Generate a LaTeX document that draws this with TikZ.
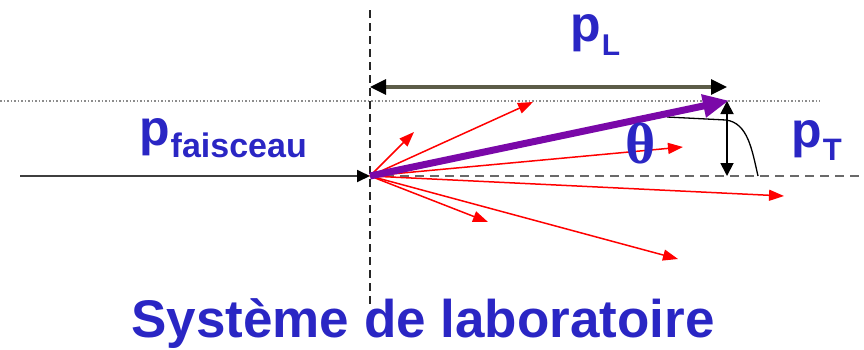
\documentclass[tikz,border=0pt]{standalone}
\usepackage{fontspec}
\setmainfont{Liberation Sans}
\newfontfamily\greekserif{Liberation Serif}
\usetikzlibrary{arrows.meta}
\definecolor{txtblue}{RGB}{42,38,196}
\definecolor{arrpurple}{RGB}{122,8,168}
\definecolor{olivegray}{RGB}{92,92,72}
\definecolor{midgray}{RGB}{105,105,105}
\definecolor{dotgray}{RGB}{140,140,140}
\tikzset{
  lbl/.style={text=txtblue, inner sep=0pt, font=\bfseries\fontsize{50}{50}\selectfont},
  redarr/.style={red, line width=1.5pt, -{Triangle[length=15pt,width=11pt]}},
}
\begin{document}
\begin{tikzpicture}[x=1pt,y=-1pt]
\useasboundingbox (0,0) rectangle (864,349);
% reference lines
\coordinate (O) at (370,176);
\coordinate (vtop) at (370,10);
\coordinate (vbot) at (370,306);
\coordinate (dotL) at (0,101);
\coordinate (dotR) at (820,101);
\coordinate (dashR) at (864,176);
\coordinate (beamS) at (20,176);
\coordinate (Ltail) at (370,87);
\coordinate (Lhead) at (727,87);
\coordinate (P) at (727,101);
\coordinate (Pbase) at (727,176);
\draw[black!85, line width=2.6pt, dash pattern=on 8pt off 5pt] (vtop) -- (vbot);
\draw[dotgray, line width=1.3pt, dash pattern=on 1.5pt off 2pt] (dotL) -- (dotR);
\draw[midgray, line width=1.8pt, dash pattern=on 9pt off 6pt] (O) -- (dashR);
% beam
\draw[midgray!60!black, line width=1.8pt, -{Triangle[length=13pt,width=12pt,color=black]}] (beamS) -- (O);
% red arrows
\coordinate (r1) at (414,132);
\coordinate (r2) at (533,102);
\coordinate (r3) at (683,147);
\coordinate (r4) at (784,196);
\coordinate (r5) at (488,222);
\coordinate (r6) at (678,259);
\foreach \r in {r1,r2,r3,r4,r5,r6} \draw[redarr] (O) -- (\r);
% theta curve
\coordinate (c1) at (667,117);
\coordinate (c2) at (726,120);
\coordinate (c3) at (758,176);
\draw[black, line width=1.3pt] (c1) -- (c2) .. controls (748,123) and (752,150) .. (c3);
% purple momentum
\draw[arrpurple, line width=7pt, -{Triangle[length=26pt,width=22pt]}, shorten >=-2pt] (O) -- (P);
% pL
\draw[olivegray, line width=3.2pt, {Triangle[length=16pt,width=15pt,color=black]}-{Triangle[length=16pt,width=15pt,color=black]}] (Ltail) -- (Lhead);
% pT
\draw[black, line width=1.8pt, {Triangle[length=13pt,width=13pt]}-{Triangle[length=13pt,width=13pt]}] (P) -- (Pbase);
% labels
\node[lbl, anchor=base west] (pL) at (570,41) {p\kern1pt\lower14pt\hbox{\fontsize{30}{30}\selectfont L}};
\node[lbl, anchor=base west] (pF) at (139,145) {p\kern1pt\lower12pt\hbox{\fontsize{34}{34}\selectfont faisceau}};
\node[lbl, anchor=base west] (pT) at (791,147) {p\kern1pt\lower13pt\hbox{\fontsize{31}{31}\selectfont T}};
\node[text=txtblue, inner sep=0pt, font=\greekserif\bfseries\fontsize{58}{58}\selectfont] (th) at (641,143) {θ};
\node[text=txtblue, inner sep=0pt, anchor=base, font=\bfseries\fontsize{53}{53}\selectfont] (title) at (423,337) {Système de laboratoire};
\end{tikzpicture}
\end{document}
